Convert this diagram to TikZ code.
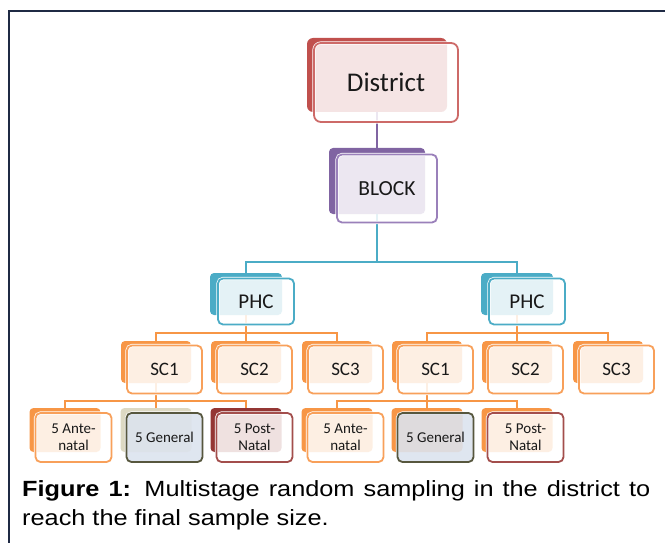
\documentclass[tikz,border=0pt]{standalone}
\usepackage{fontspec}
\setmainfont{Carlito}
\newfontfamily\captionfont[FakeStretch=1.15]{Liberation Sans}
\usepackage{tikz}
\usetikzlibrary{positioning,backgrounds}
\definecolor{distred}{HTML}{C0504D}
\definecolor{distline}{HTML}{CD6A68}
\definecolor{blockpurple}{HTML}{8064A2}
\definecolor{blockline}{HTML}{9A80BA}
\definecolor{phcteal}{HTML}{4BACC6}
\definecolor{scorange}{HTML}{F79646}
\definecolor{scline}{HTML}{F8A05A}
\definecolor{postred}{HTML}{943634}
\definecolor{postline}{HTML}{A34E4C}
\definecolor{gentan}{HTML}{DDD9C3}
\definecolor{genolive}{HTML}{57573E}
\definecolor{genblue}{HTML}{DCE3EE}
\definecolor{framenavy}{HTML}{1F2A44}

\begin{document}
\begin{tikzpicture}[x=1pt, y=-1pt,
  back/.style={rectangle, rounded corners=4pt, inner sep=0pt},
  front/.style={rectangle, rounded corners=5pt, inner sep=0pt, line width=1.8pt,
                fill=white, fill opacity=0.85, text opacity=1, text=black!90, align=center,
                preaction={draw=white, line width=3.2pt}},
  scback/.style={back, minimum width=70, minimum height=42, fill=scorange},
  scfront/.style={front, minimum width=75, minimum height=48, draw=scline,
                  font=\fontsize{19}{21}\selectfont},
  leafback/.style={back, minimum width=71, minimum height=44, fill=scorange},
  leaffront/.style={front, minimum width=76, minimum height=49, draw=scline,
                    font=\fontsize{15}{17}\selectfont},
  genfront/.style={leaffront, draw=genolive, fill=genblue, fill opacity=0.9},
  postfront/.style={leaffront, draw=postline},
  conn/.style={line width=1.9pt},
]
\useasboundingbox (0,0) rectangle (665,543);
\draw[framenavy, line width=1.5pt] (9,543) -- (9,11) -- (665,11);

% top two tiers
\node[back, fill=distred, rounded corners=6pt, minimum width=140, minimum height=74] (district-b) at (377,75) {};
\node[front, draw=distline, rounded corners=7pt, minimum width=144, minimum height=79,
      font=\fontsize{27}{30}\selectfont] (district) at (386,82.5) {District};
\node[back, fill=blockpurple, minimum width=96, minimum height=66] (block-b) at (377,181) {};
\node[front, draw=blockline, minimum width=100, minimum height=68,
      font=\fontsize{21.5}{24}\selectfont] (block) at (387,188.5) {BLOCK};

% PHC
\node[back, fill=phcteal, minimum width=72, minimum height=42] (phc1-b) at (246,294) {};
\node[front, draw=phcteal, minimum width=76, minimum height=46,
      font=\fontsize{21}{23}\selectfont] (phc1) at (256,301.5) {PHC};
\node[back, fill=phcteal, minimum width=72, minimum height=42] (phc2-b) at (517,294) {};
\node[front, draw=phcteal, minimum width=76, minimum height=46,
      font=\fontsize{21}{23}\selectfont] (phc2) at (527,301.5) {PHC};

% sub centres
\node[scback] (sc1-b) at (156,362) {};
\node[scfront] (sc1) at (164.5,369.5) {SC1};
\node[scback] (sc2-b) at (246,362) {};
\node[scfront] (sc2) at (254.5,369.5) {SC2};
\node[scback] (sc3-b) at (337,362) {};
\node[scfront] (sc3) at (345.5,369.5) {SC3};
\node[scback] (sc4-b) at (427,362) {};
\node[scfront] (sc4) at (435.5,369.5) {SC1};
\node[scback] (sc5-b) at (517,362) {};
\node[scfront] (sc5) at (525.5,369.5) {SC2};
\node[scback] (sc6-b) at (608,362) {};
\node[scfront] (sc6) at (616.5,369.5) {SC3};

% samples
\node[leafback] (ante1-b) at (65,430) {};
\node[leaffront] (ante1) at (73.5,437.5) {5 Ante-\\natal};
\node[leafback, fill=gentan] (gen1-b) at (156,430) {};
\node[genfront] (gen1) at (164.5,437.5) {5 General};
\node[leafback, fill=postred] (post1-b) at (246,430) {};
\node[postfront] (post1) at (254.5,437.5) {5 Post-\\Natal};
\node[leafback] (ante2-b) at (337,430) {};
\node[leaffront] (ante2) at (345.5,437.5) {5 Ante-\\natal};
\node[leafback] (gen2-b) at (427,430) {};
\node[genfront] (gen2) at (435.5,437.5) {5 General};
\node[leafback] (post2-b) at (517,430) {};
\node[postfront] (post2) at (525.5,437.5) {5 Post-\\Natal};

\node[anchor=north west, inner sep=0pt, text width=628pt, align=justify,
      font=\captionfont\fontsize{22}{29}\selectfont] (caption) at (22,480)
  {\textbf{Figure 1:} Multistage random sampling in the district to\linebreak reach the final sample size.};

\begin{scope}[on background layer]
\coordinate (bus-p) at (377,262);
\coordinate (bus-s1) at (246,333);
\coordinate (bus-s2) at (517,333);
\coordinate (bus-l1) at (156,401);
\coordinate (bus-l2) at (427,401);
\draw[conn, blockpurple] (district-b) -- (block-b);
\draw[conn, phcteal] (block-b) -- (bus-p) -| (phc1-b);
\draw[conn, phcteal] (bus-p) -| (phc2-b);
\draw[conn, scorange] (phc1-b) -- (bus-s1) -| (sc1-b);
\draw[conn, scorange] (bus-s1) -| (sc3-b);
\draw[conn, scorange] (bus-s1) -- (sc2-b);
\draw[conn, scorange] (phc2-b) -- (bus-s2) -| (sc4-b);
\draw[conn, scorange] (bus-s2) -| (sc6-b);
\draw[conn, scorange] (bus-s2) -- (sc5-b);
\draw[conn, scorange] (sc1-b) -- (bus-l1) -| (ante1-b);
\draw[conn, scorange] (bus-l1) -| (post1-b);
\draw[conn, scorange] (bus-l1) -- (gen1-b);
\draw[conn, scorange] (sc4-b) -- (bus-l2) -| (ante2-b);
\draw[conn, scorange] (bus-l2) -| (post2-b);
\draw[conn, scorange] (bus-l2) -- (gen2-b);
\end{scope}
\end{tikzpicture}
\end{document}
